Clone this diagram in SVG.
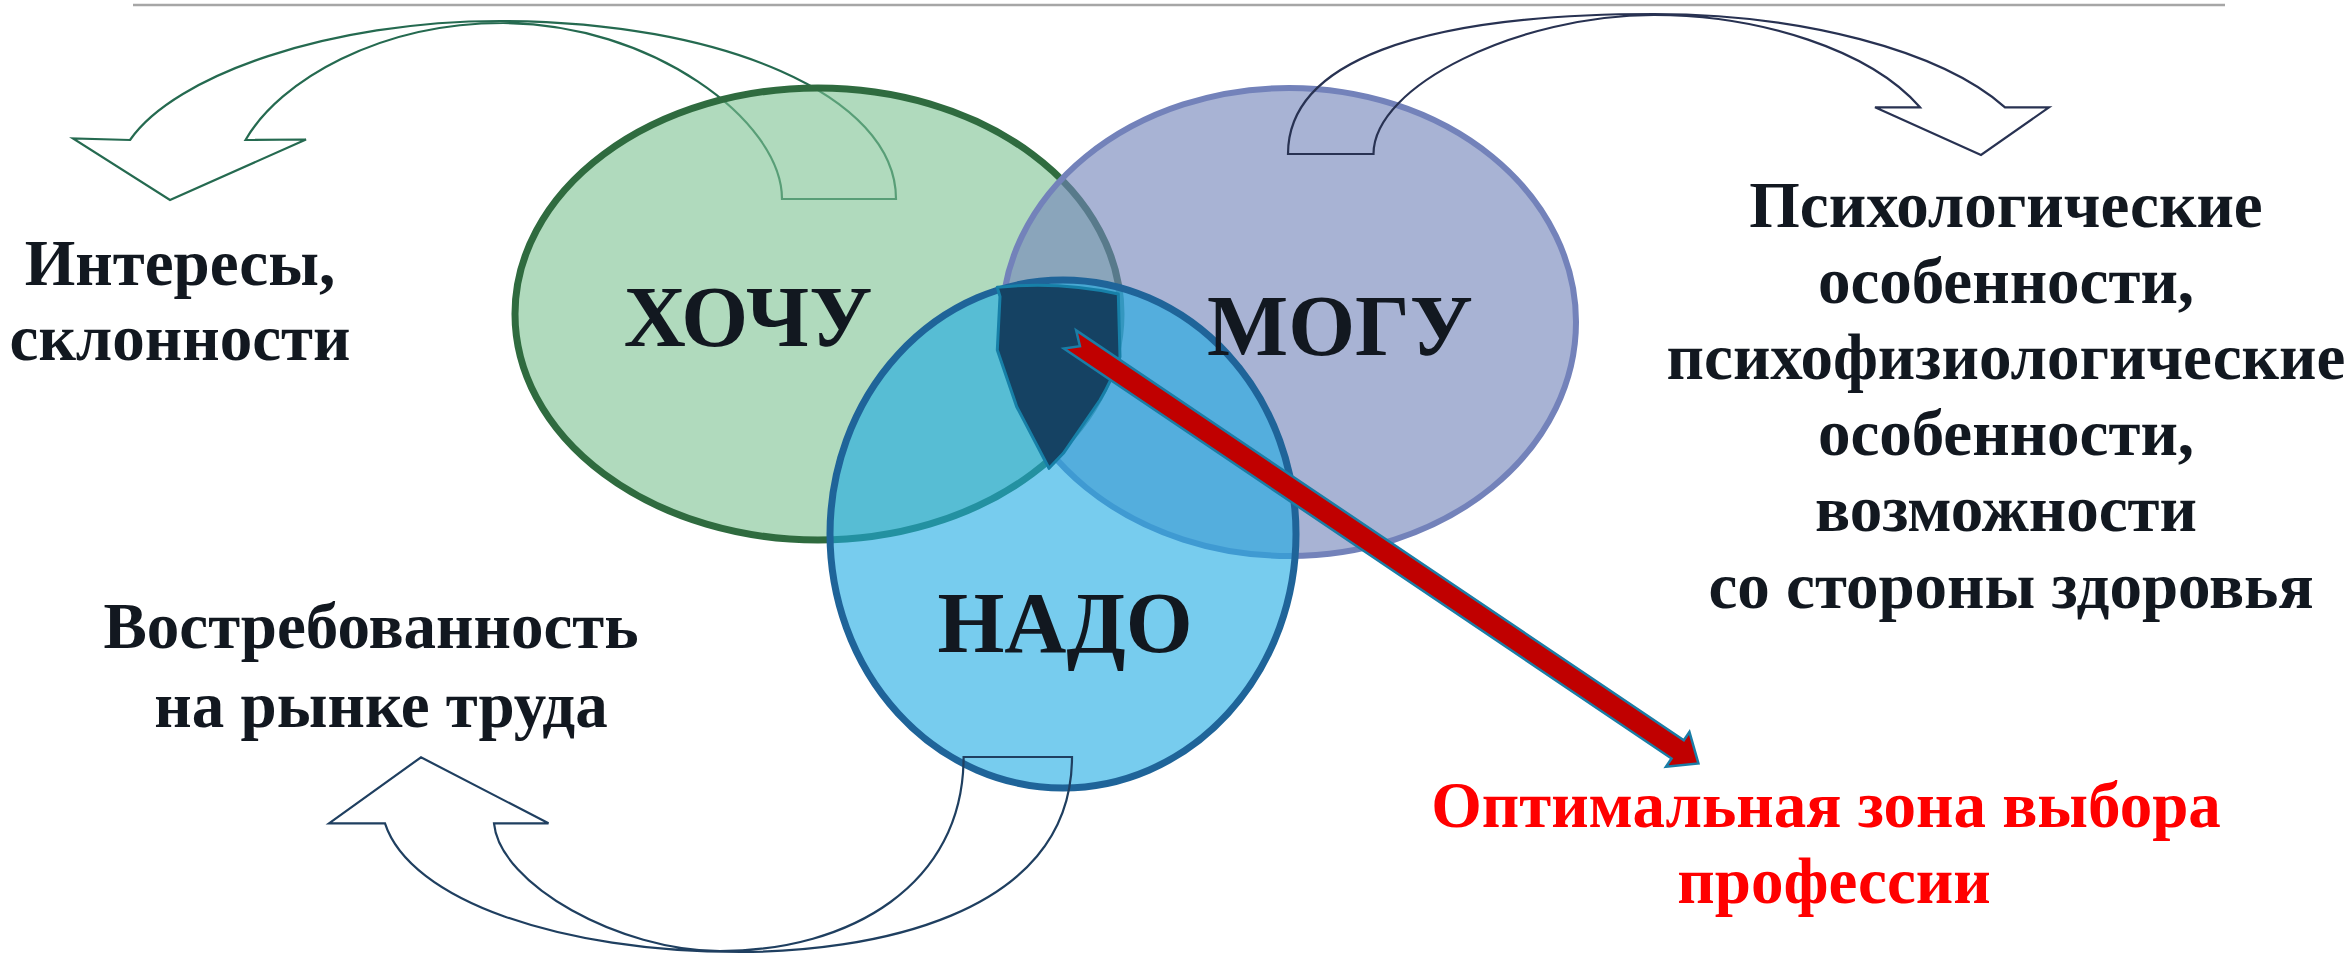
<svg xmlns="http://www.w3.org/2000/svg" width="2348" height="954" viewBox="0 0 2348 954">
<style>
.t{font-family:"Liberation Serif","Times New Roman",serif;font-weight:700;fill:#121820;text-anchor:middle}
.side{font-size:65px}
.big{font-size:86px}
.red{fill:#FF0000}
.arr{fill:none;stroke-width:2.2;stroke-linejoin:miter}
</style>
<rect width="2348" height="954" fill="#FFFFFF"/>
<line x1="133" y1="5" x2="2225" y2="5" stroke="#A6A6A6" stroke-width="2.5"/>
<g id="connectors">
<path id="arrow-hochu" class="arr" stroke="#256A50" stroke-width="3.2" d="M 782,199 L 896,199 C 896,95 720,21 500,21 C 330,21 175,75 130,140 L 73,138.5 L 170,200 L 306,139.5 L 245.5,140 C 280,80 380,23 503,23 C 650,23 782,120 782,199 Z"/>
</g>
<g id="node-hochu">
<ellipse cx="818" cy="314" rx="303" ry="226" fill="#7BC191" fill-opacity="0.6" stroke="#2F6B3F" stroke-width="7"/>
</g>
<g id="node-mogu">
<ellipse cx="1289" cy="322" rx="287" ry="234" fill="#7284BA" fill-opacity="0.62" stroke="#7382BA" stroke-width="6"/>
</g>
<g id="connectors-2">
<path id="arrow-mogu" class="arr" stroke="#283252" d="M 1288,154 C 1288,63 1416,14 1654,14 C 1800,14 1940,50 2005,107.3 L 2049,107.3 L 1981,155 L 1875,107.3 L 1920,107.3 C 1870,50 1760,15 1654,15 C 1520,15 1373.5,85 1373.5,154 Z"/>
</g>
<g id="node-nado">
<ellipse cx="1063" cy="534" rx="233" ry="254" fill="#1CAAE3" fill-opacity="0.6" stroke="#1F6499" stroke-width="7"/>
</g>
<g id="connectors-3">
<path id="arrow-nado" class="arr" stroke="#1F3F60" d="M 963.6,757 L 1072,757 C 1072,920 860,952 740,952 C 560,952 410,900 385,823.3 L 329,823.3 L 421,757.3 L 548.5,823.3 L 494,823.3 C 500,885 620,951 720,951 C 850,951 963.6,885 963.6,757 Z"/>
</g>
<g id="node-optimal-zone">
<path d="M 997.3,287.3 Q 1060,281 1118.3,294 L 1120,356.7 Q 1112,380 1100,400 L 1063.3,453.3 L 1049,468.3 L 1016.7,406.7 L 997.3,350 L 1000,296.7 Z" fill="#154263" stroke="#1780A8" stroke-width="3" stroke-linejoin="round"/>
</g>
<g id="connector-red">
<polygon transform="translate(1070,339.5) rotate(34)" points="0,-11 733,-11 733,-21 758,0 733,21 733,11 0,11 12,0" fill="#C00000" stroke="#1A7DA6" stroke-width="2.5"/>
</g>
<g id="labels">
<text class="t big" x="748" y="346">ХОЧУ</text>
<text class="t big" x="1340" y="355">МОГУ</text>
<text class="t big" x="1065" y="652">НАДО</text>
</g>
<g id="text-interests">
<text class="t side" x="180" y="285">Интересы,</text>
<text class="t side" x="180" y="360">склонности</text>
</g>
<g id="text-demand">
<text class="t side" x="371" y="648">Востребованность</text>
<text class="t side" x="381" y="727">на рынке труда</text>
</g>
<g id="text-abilities">
<text class="t side" x="2006" y="227">Психологические</text>
<text class="t side" x="2006" y="303">особенности,</text>
<text class="t side" x="2006" y="379">психофизиологические</text>
<text class="t side" x="2006" y="455">особенности,</text>
<text class="t side" x="2006" y="531">возможности</text>
<text class="t side" x="2011" y="608">со стороны здоровья</text>
</g>
<g id="text-optimal">
<text class="t side red" x="1826" y="827">Оптимальная зона выбора</text>
<text class="t side red" x="1834" y="903">профессии</text>
</g>
</svg>
